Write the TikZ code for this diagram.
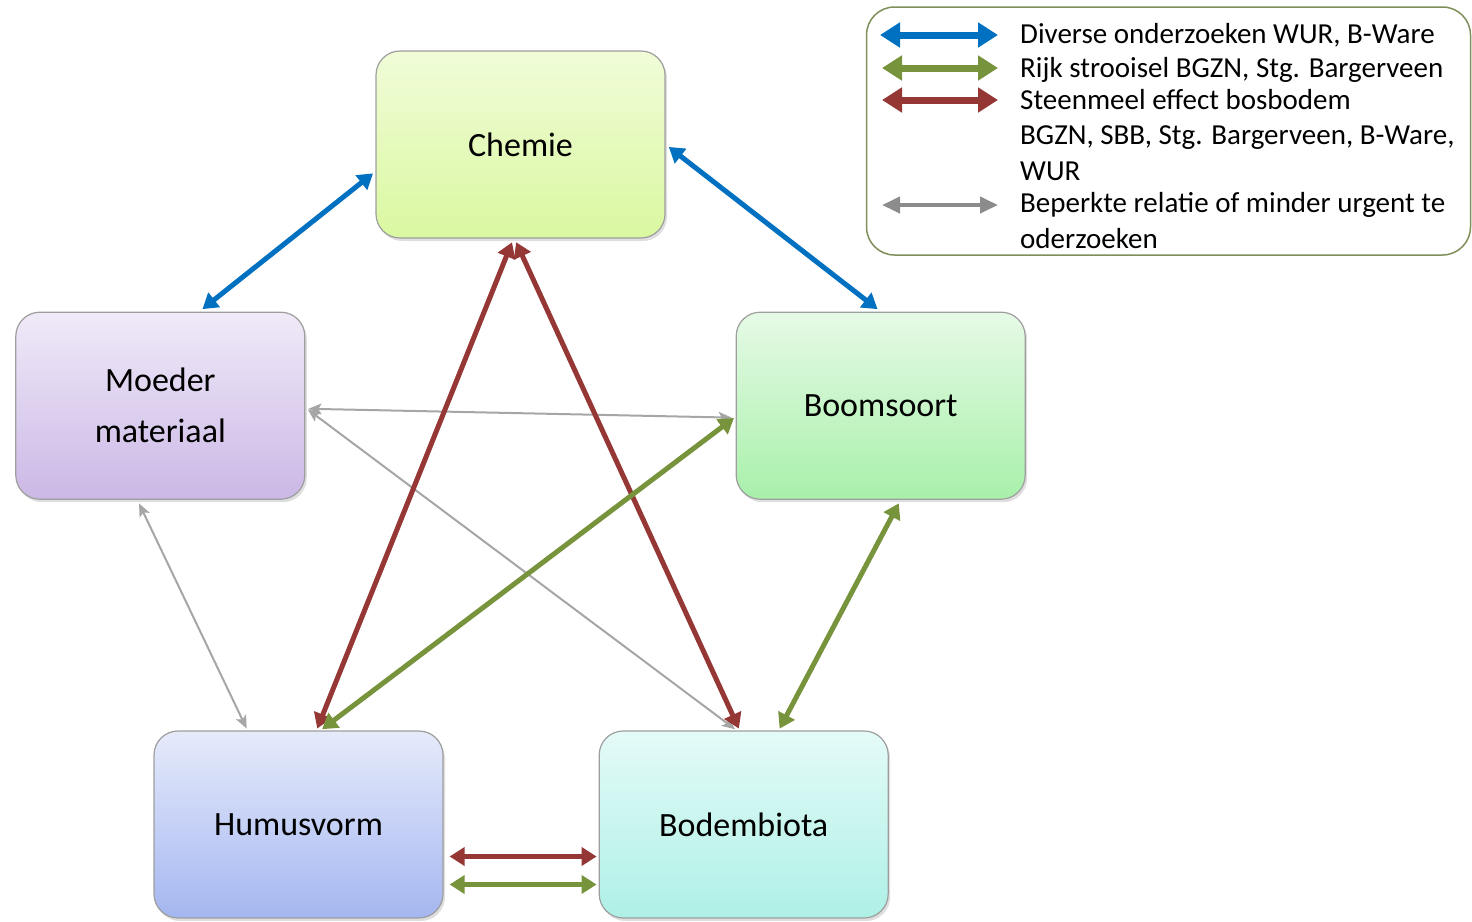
\documentclass[tikz,border=0pt]{standalone}
\usepackage{fontspec}
\setmainfont{Carlito}
\usetikzlibrary{arrows.meta,positioning,calc,shadows}

\definecolor{relblue}{HTML}{0070C0}
\definecolor{relgreen}{HTML}{77933C}
\definecolor{relred}{HTML}{953735}
\definecolor{relgray}{HTML}{A6A6A6}
\definecolor{legframe}{HTML}{7F8F5A}

\begin{document}
\begin{tikzpicture}[
      x=1pt, y=-1pt,
      node distance=73pt and 70pt,
      soil/.style={draw=black!38, line width=1.2pt, rounded corners=24pt, align=center,
        minimum width=289pt, minimum height=187pt, inner sep=0pt,
        font=\fontsize{34}{51}\selectfont,
        drop shadow={shadow xshift=2pt, shadow yshift=-3pt, opacity=0.25}},
      bluelink/.style={<->, >={Triangle[width=18pt,length=15pt]}, line width=5pt, relblue},
      greenlink/.style={<->, >={Triangle[width=18pt,length=15pt]}, line width=5pt, relgreen},
      redlink/.style={<->, >={Triangle[width=18pt,length=15pt]}, line width=5pt, relred},
      graylink/.style={<->, >={Stealth[width=11pt,length=13pt,inset=3pt]}, line width=2pt, relgray},
      legarrow/.style={<->, >={Triangle[width=24pt,length=20pt]}, line width=7pt},
      legtext/.style={anchor=base west, align=left, inner sep=0pt, font=\fontsize{29}{35.5}\selectfont}
    ]
    \useasboundingbox (0,0) rectangle (1472,921);

    % soil factors
    \node[soil, top color={rgb,255:red,240;green,252;blue,216}, bottom color={rgb,255:red,218;green,248;blue,160}]
      (chemie) at (520.5,144.5) {Chemie};
    \node[soil, below left=of chemie, top color={rgb,255:red,240;green,234;blue,248}, bottom color={rgb,255:red,203;green,184;blue,230}]
      (moeder) {Moeder\\materiaal};
    \node[soil, below right=of chemie, top color={rgb,255:red,230;green,250;blue,230}, bottom color={rgb,255:red,168;green,240;blue,170}]
      (boom) {Boomsoort};
    \node[soil, top color={rgb,255:red,230;green,235;blue,251}, bottom color={rgb,255:red,164;green,182;blue,240}]
      (humus) at (298.5,824.5) {Humusvorm};
    \node[soil, right=155pt of humus, top color={rgb,255:red,228;green,251;blue,248}, bottom color={rgb,255:red,174;green,240;blue,230}]
      (bodem) {Bodembiota};

    % relations
    \draw[bluelink, shorten <=4pt, shorten >=3pt] ($(moeder.north)+(39,0)$) -- ($(chemie.west)+(0,27)$);
    \draw[bluelink, shorten <=4pt, shorten >=4pt] (chemie.east) -- (boom.north);
    \draw[graylink, shorten <=3pt, shorten >=4pt] ($(moeder.east)+(0,3)$) -- ($(boom.west)+(0,12)$);
    \draw[graylink, shorten <=3pt, shorten >=2pt] ($(moeder.east)+(0,2)$) -- ($(bodem.north)+(-7,0)$);
    \draw[graylink, shorten <=4pt, shorten >=2pt] ($(moeder.south)+(-23,0)$) -- ($(humus.north)+(-51,0)$);
    \draw[redlink, shorten <=4pt, shorten >=2pt] ($(chemie.south)+(-7,0)$) -- ($(humus.north)+(18,0)$);
    \draw[redlink, shorten <=4pt, shorten >=2pt] ($(chemie.south)+(-6,0)$) -- ($(bodem.north)+(-4,0)$);
    \draw[greenlink, shorten <=2pt, shorten >=2pt] ($(boom.west)+(0,11)$) -- ($(humus.north)+(22,0)$);
    \draw[greenlink, shorten <=4pt, shorten >=2pt] ($(boom.south)+(20,0)$) -- ($(bodem.north)+(35,0)$);
    \draw[redlink, shorten <=6pt, shorten >=2pt] ($(humus.east)+(0,32)$) -- ($(bodem.west)+(0,32)$);
    \draw[greenlink, shorten <=6pt, shorten >=2pt] ($(humus.east)+(0,60)$) -- ($(bodem.west)+(0,60)$);

    % legend
    \node[draw=legframe, line width=1.5pt, rounded corners=28pt, minimum width=604pt, minimum height=248pt]
      (legend) at (1168.5,131) {};
    \node[legtext] (legdiv) at (1020,43) {Diverse onderzoeken WUR, B-Ware};
    \node[legtext] (legrijk) at (1020,77) {Rijk strooisel BGZN, Stg. Bargerveen};
    \node[legtext] (legsteen) at (1020,180) {Steenmeel effect bosbodem\\BGZN, SBB, Stg. Bargerveen, B-Ware,\\WUR};
    \node[legtext] (legbep) at (1020,248) {Beperkte relatie of minder urgent te\\oderzoeken};
    \coordinate (lb1) at (880,35);  \coordinate (lb2) at (998,35);
    \coordinate (lg1) at (882,68);  \coordinate (lg2) at (998,68);
    \coordinate (lr1) at (882,100); \coordinate (lr2) at (998,100);
    \coordinate (lx1) at (882,205); \coordinate (lx2) at (998,205);
    \draw[legarrow, relblue] (lb1) -- (lb2);
    \draw[legarrow, relgreen] (lg1) -- (lg2);
    \draw[legarrow, relred] (lr1) -- (lr2);
    \draw[legarrow, line width=4pt, >={Triangle[width=16pt,length=18pt]}, black!45] (lx1) -- (lx2);
  \end{tikzpicture}
\end{document}
